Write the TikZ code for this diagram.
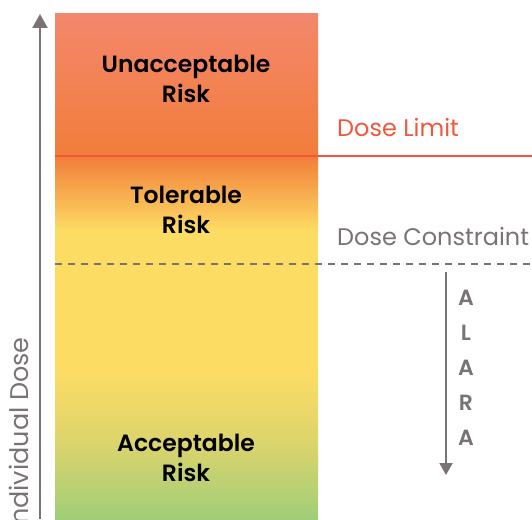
\documentclass[tikz,border=0pt]{standalone}
\usepackage{fontspec}
\setmainfont{Poppins}[BoldFont={Poppins SemiBold}]
\usetikzlibrary{arrows.meta, positioning}
\definecolor{axisgray}{RGB}{122,115,116}
\definecolor{limitred}{RGB}{240,88,62}
\definecolor{barsalmon}{RGB}{243,135,108}
\definecolor{barorange}{RGB}{242,125,58}
\definecolor{baryellow}{RGB}{253,220,100}
\definecolor{barolive}{RGB}{218,212,108}
\definecolor{bargreen}{RGB}{160,206,120}

\begin{document}
\begin{tikzpicture}[
    x=1pt, y=1pt,
    risk/.style={font=\fontsize{23.5}{30}\selectfont\bfseries, align=center, text=black},
    level/.style={font=\fontsize{24}{28}\selectfont, anchor=west, inner sep=0pt},
    alara/.style={font=\fontsize{22}{26}\selectfont\bfseries, text=axisgray, inner sep=0pt},
    axis/.style={draw=axisgray, line width=2.2pt, -{Triangle[width=15pt, length=14pt]}}
]
\useasboundingbox (0,0) rectangle (532,519);
\clip (0,0) rectangle (532,519);

% colour bar
\shade[top color=barsalmon, bottom color=barorange] (55,363) rectangle (318,505);
\shade[top color=barorange, bottom color=baryellow] (55,288) rectangle (318,363.5);
\fill[baryellow] (55,148) rectangle (318,288.5);
\shade[top color=baryellow, bottom color=bargreen, middle color=barolive] (55,0) rectangle (318,148.5);

\node[risk] (unacceptable) at (186,440) {Unacceptable\\Risk};
\node[risk] (tolerable) at (186,309) {Tolerable\\Risk};
\node[risk] (acceptable) at (186,61) {Acceptable\\Risk};

% dose axis
\coordinate (axis bottom) at (40,0);
\coordinate (axis top) at (40,505);
\draw[axis] (axis bottom) -- (axis top);
\node[rotate=90, anchor=base east, inner sep=0pt, text=axisgray, font=\fontsize{25.5}{30}\selectfont] (dose) at (28,182) {Individual Dose};

% limit and constraint
\coordinate (limit start) at (55,363);
\coordinate (limit end) at (532,363);
\draw[limitred, line width=2pt] (limit start) -- (limit end);
\node[level, text=limitred] (limit) at (337,392) {Dose Limit};

\coordinate (constraint start) at (55,255);
\coordinate (constraint end) at (532,255);
\draw[axisgray, line width=1.4pt, dash pattern=on 7pt off 6pt] (constraint start) -- (constraint end);
\node[level, text=axisgray] (constraint) at (337,283) {Dose Constraint};

% ALARA
\coordinate (alara top) at (446,247);
\coordinate (alara bottom) at (446,44);
\draw[axis, line width=2pt, -{Triangle[width=13pt, length=12pt]}] (alara top) -- (alara bottom);
\foreach \ch [count=\i] in {A,L,A,R,A}
  \node[alara] (alara\i) at (466,256-35*\i) {\ch};
\end{tikzpicture}
\end{document}
